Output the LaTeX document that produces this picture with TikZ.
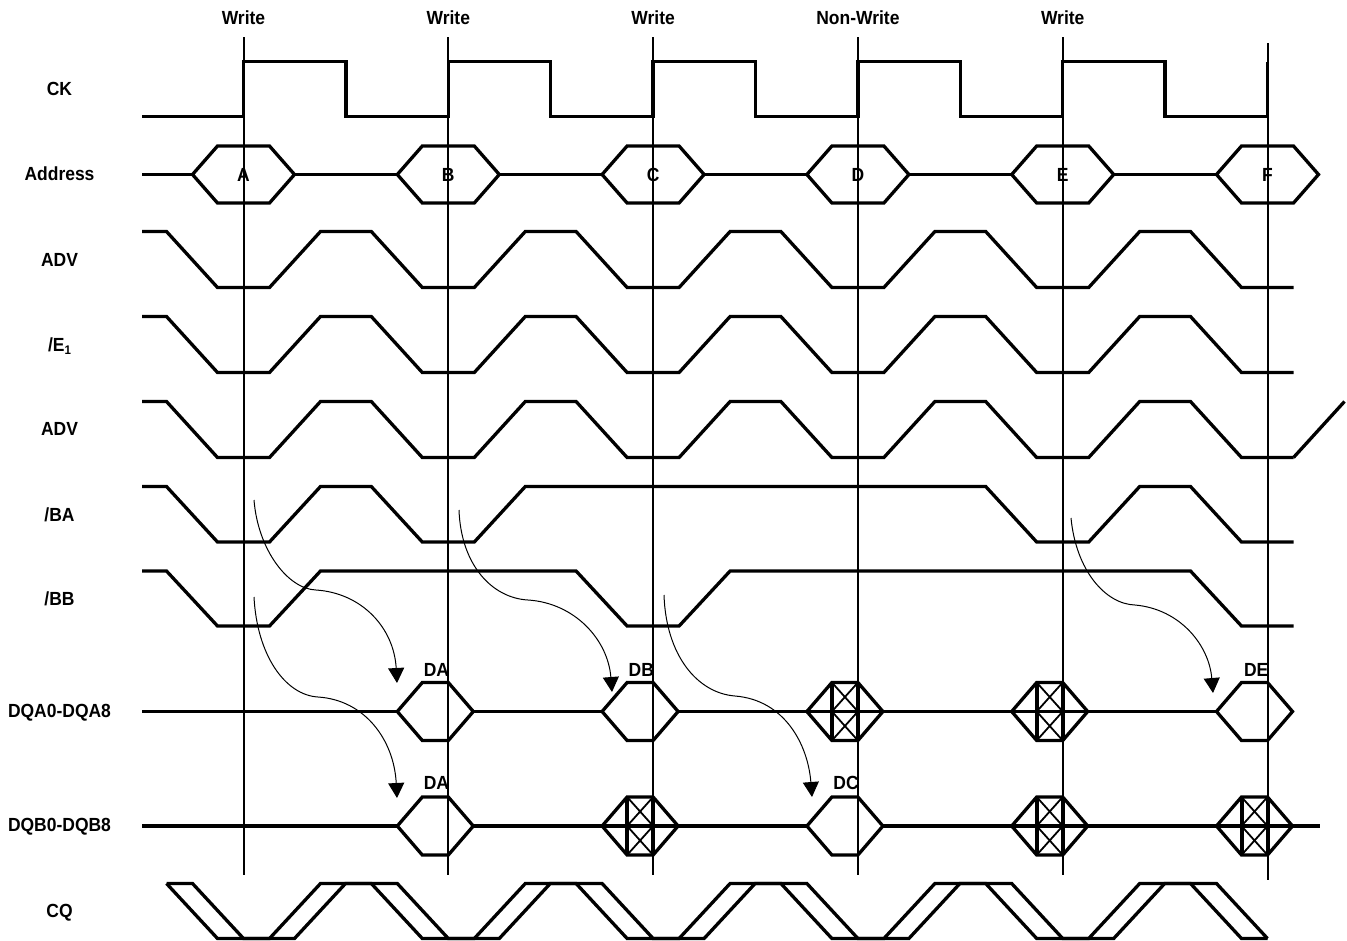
\documentclass[tikz,border=0pt]{standalone}
\usepackage{fontspec}
\setmainfont{Liberation Sans}[FakeStretch=0.92]
\usetikzlibrary{arrows.meta}
\def\va{243.5}
\def\vb{448.3}
\def\vc{653.1}
\def\vd{857.9}
\def\ve{1062.7}
\def\vf{1267.5}
\newcommand{\trapwave}[2]{%
  \draw[sig] (142,#1) \foreach \v in {\va,\vb,\vc,\vd,\ve} { -- (\v-77,#1) -- (\v-26,#2) -- (\v+26,#2) -- (\v+77,#1) } -- (\vf-77,#1) -- (\vf-26,#2) -- (\vf+26,#2);}
\newcommand{\dqhex}[2]{%
  \draw[sig] (#1-51,#2) -- (#1-26,#2-29) -- (#1,#2-29) -- (#1+25,#2) -- (#1,#2+29) -- (#1-26,#2+29) -- cycle;}
\newcommand{\dqcross}[2]{%
  \dqhex{#1}{#2}
  \draw[xline] (#1-26,#2-29) -- (#1,#2) (#1,#2-29) -- (#1-26,#2) (#1-26,#2) -- (#1,#2+29) (#1,#2) -- (#1-26,#2+29);
  \draw[xside] (#1-26,#2-29) -- (#1-26,#2+29) (#1,#2-29) -- (#1,#2+29);}
\begin{document}
\begin{tikzpicture}[x=1pt,y=-1pt,
  sig/.style={line width=3.3pt, line join=miter, line cap=butt},
  vref/.style={line width=2pt},
  xline/.style={line width=1.8pt},
  xside/.style={line width=4pt},
  causal/.style={line width=1pt, -{Triangle[width=16pt,length=15pt]}},
  lbl/.style={font=\fontsize{19}{19}\selectfont\bfseries, inner sep=0pt, anchor=base},
  dlbl/.style={font=\fontsize{19}{19}\selectfont\bfseries, inner sep=0pt, anchor=base east},
]
\useasboundingbox (0,0) rectangle (1347,940);
\fill[white] (0,0) rectangle (1347,940);

% reference lines
\foreach \v/\n in {\va/a,\vb/b,\vc/c,\vd/d,\ve/e} \draw[vref] (\v,37) -- (\v,875);
\draw[vref] (\vf,43) -- (\vf,880);

% top labels
\node[lbl] (wa) at (\va,24.8) {Write};
\node[lbl] (wb) at (\vb,24.8) {Write};
\node[lbl] (wc) at (\vc,24.8) {Write};
\node[lbl] (wd) at (\vd,24.8) {Non-Write};
\node[lbl] (we) at (\ve,24.8) {Write};

% row labels
\node[lbl] (lck) at (59.5,95.8) {CK};
\node[lbl] (laddr) at (59.5,180.3) {Address};
\node[lbl] (ladv1) at (59.5,266.3) {ADV};
\node[lbl] (le1) at (59.5,351.3) {/E\raisebox{-0.35ex}{\fontsize{12.5}{12.5}\selectfont 1}};
\node[lbl] (ladv2) at (59.5,435.3) {ADV};
\node[lbl] (lba) at (59.5,521.3) {/BA};
\node[lbl] (lbb) at (59.5,605.3) {/BB};
\node[lbl] (ldqa) at (59.5,717.3) {DQA0-DQA8};
\node[lbl] (ldqb) at (59.5,831.3) {DQB0-DQB8};
\node[lbl] (lcq) at (59.5,917.8) {CQ};

% CK
\draw[sig] (142,116.5) \foreach \v in {\va,\vb,\vc,\vd,\ve} { -- (\v,116.5) -- (\v,61.5) -- (\v+102.4,61.5) -- (\v+102.4,116.5) } -- (\vf,116.5) -- (\vf,61.5);

% Address
\draw[sig] (142,174.5) -- (\va-51,174.5);
\foreach \a/\b in {\va/\vb,\vb/\vc,\vc/\vd,\vd/\ve,\ve/\vf} \draw[sig] (\a+51,174.5) -- (\b-51,174.5);
\foreach \v/\t in {\va/A,\vb/B,\vc/C,\vd/D,\ve/E,\vf/F} {
  \draw[sig] (\v-51,174.5) -- (\v-26,146) -- (\v+26,146) -- (\v+51,174.5) -- (\v+26,203) -- (\v-26,203) -- cycle;
  \node[lbl] (addr\t) at (\v,181.3) {\t};
}

% ADV, /E1, ADV
\trapwave{231.5}{287.5}
\trapwave{316.5}{372.5}
\trapwave{401.5}{457.5}
\draw[sig] (\vf+26,457.5) -- (\vf+77,401.5);

% /BA
\draw[sig] (142,486.5) -- (\va-77,486.5) -- (\va-26,542) -- (\va+26,542) -- (\va+77,486.5)
  -- (\vb-77,486.5) -- (\vb-26,542) -- (\vb+26,542) -- (\vb+77,486.5)
  -- (\ve-77,486.5) -- (\ve-26,542) -- (\ve+26,542) -- (\ve+77,486.5)
  -- (\vf-77,486.5) -- (\vf-26,542) -- (\vf+26,542);

% /BB
\draw[sig] (142,571) -- (\va-77,571) -- (\va-26,626) -- (\va+26,626) -- (\va+77,571)
  -- (\vc-77,571) -- (\vc-26,626) -- (\vc+26,626) -- (\vc+77,571)
  -- (\vf-77,571) -- (\vf-26,626) -- (\vf+26,626);

% DQA
\draw[sig] (142,711.5) -- (\vb-51,711.5);
\draw[sig] (\vb+25,711.5) -- (\vc-51,711.5);
\draw[sig] (\vc+25,711.5) -- (\vf-51,711.5);
\dqhex{\vb}{711.5}
\dqhex{\vc}{711.5}
\dqcross{\vd}{711.5}
\dqcross{\ve}{711.5}
\dqhex{\vf}{711.5}
\node[dlbl] (dqada) at (\vb+1,676.5) {DA};
\node[dlbl] (dqadb) at (\vc+1,676.5) {DB};
\node[dlbl] (dqade) at (\vf+1,676.5) {DE};

% DQB
\draw[sig] (142,826) -- (\vb-51,826);
\draw[sig] (\vb+25,826) -- (\vd-51,826);
\draw[sig] (\vd+25,826) -- (1320,826);
\dqhex{\vb}{826}
\dqcross{\vc}{826}
\dqhex{\vd}{826}
\dqcross{\ve}{826}
\dqcross{\vf}{826}
\node[dlbl] (dqbda) at (\vb+1,789) {DA};
\node[dlbl] (dqbdc) at (\vd+1,789) {DC};

% CQ
\draw[sig] (\va-77,883.5) -- (\va-26,938.5) -- (\va+26,938.5) -- (\va+77,883.5)
  \foreach \v in {\vb,\vc,\vd,\ve} { -- (\v-77,883.5) -- (\v-26,938.5) -- (\v+26,938.5) -- (\v+77,883.5) }
  -- (\vf-77,883.5) -- (\vf-26,938.5) -- (\vf,938.5);
\draw[sig] (\va-77,883.5) -- (\va-51,883.5) -- (\va,938.5) -- (\va+51,938.5) -- (\va+102,883.5)
  \foreach \v in {\vb,\vc,\vd,\ve} { -- (\v-51,883.5) -- (\v,938.5) -- (\v+51,938.5) -- (\v+102,883.5) }
  -- (\vf-51,883.5) -- (\vf,938.5);

% causal arrows
\coordinate (s1) at (254,500); \coordinate (m1) at (316,590); \coordinate (t1) at (397,683);
\coordinate (s2) at (254,597); \coordinate (m2) at (318,697); \coordinate (t2) at (397,798);
\coordinate (s3) at (459,510); \coordinate (m3) at (528,600); \coordinate (t3) at (612,692);
\coordinate (s4) at (664,595); \coordinate (m4) at (735,696); \coordinate (t4) at (812,797);
\coordinate (s5) at (1071,518); \coordinate (m5) at (1135,605); \coordinate (t5) at (1213,693);
\draw[causal] (s1) .. controls (258,550) and (288,589) .. (m1) .. controls (362,593) and (394,628) .. (t1);
\draw[causal] (s2) .. controls (257,655) and (285,695) .. (m2) .. controls (365,700) and (394,740) .. (t2);
\draw[causal] (s3) .. controls (461,565) and (492,598) .. (m3) .. controls (575,603) and (608,640) .. (t3);
\draw[causal] (s4) .. controls (666,655) and (697,693) .. (m4) .. controls (785,700) and (808,745) .. (t4);
\draw[causal] (s5) .. controls (1076,570) and (1105,604) .. (m5) .. controls (1180,609) and (1209,645) .. (t5);
\end{tikzpicture}
\end{document}
